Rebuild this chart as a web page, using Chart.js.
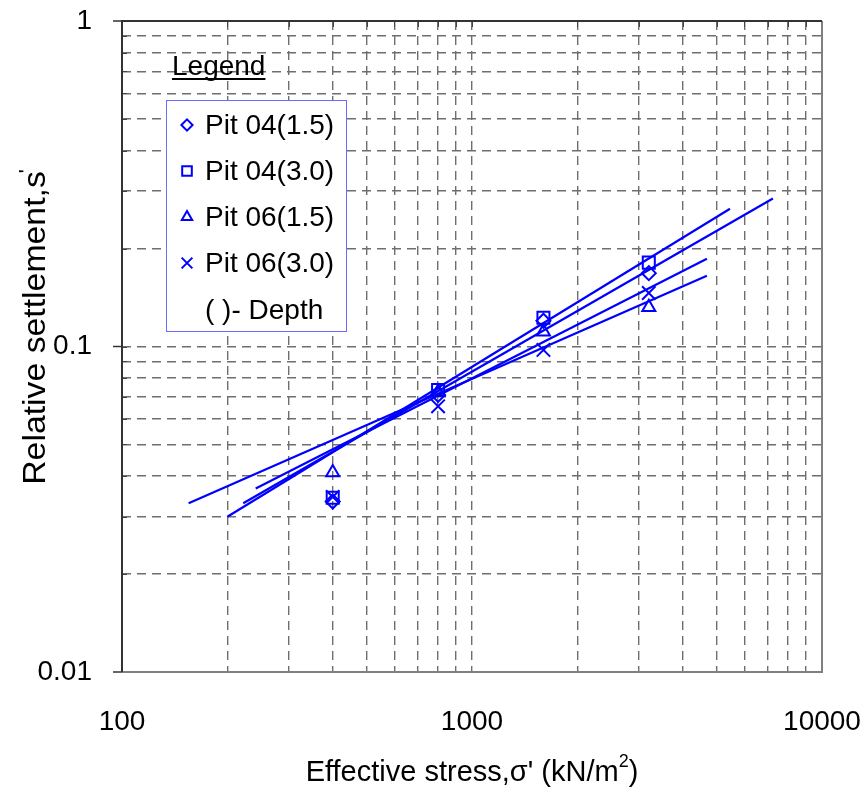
<!DOCTYPE html>
<html>
<head>
<meta charset="utf-8">
<script src="https://cdn.jsdelivr.net/npm/chart.js@4/dist/chart.umd.min.js"></script>
<style>
    body { margin: 0; background: #fff; }
    #wrap { width: 865px; height: 796px; }
</style>
</head>
<body>
<div id="wrap"><canvas id="settlementChart" width="865" height="796"></canvas></div>
<script>
// effective stress (kN/m2) of the loading steps
const stress = [400, 800, 1600, 3200];

// relative settlement
const pit04_15 = [0.0334, 0.071, 0.12, 0.168];
const pit04_30 = [0.0343, 0.0735, 0.1225, 0.181];
const pit06_15 = [0.041, 0.0725, 0.111, 0.132];
const pit06_30 = [0.0345, 0.0655, 0.0976, 0.146];

// trend lines: start and end of each line
const trendX_04_15 = [222, 7240];
const trendY_04_15 = [0.033, 0.285];
const trendX_04_30 = [200, 5460];
const trendY_04_30 = [0.030, 0.265];
const trendX_06_15 = [155, 4690];
const trendY_06_15 = [0.033, 0.165];
const trendX_06_30 = [241, 4690];
const trendY_06_30 = [0.0366, 0.186];

// grid lines and labelled ticks
const xGrid = [100, 200, 300, 400, 500, 600, 700, 800, 900, 1000,
    2000, 3000, 4000, 5000, 6000, 7000, 8000, 9000, 10000];
const yGrid = [0.01, 0.02, 0.03, 0.04, 0.05, 0.06, 0.07, 0.08, 0.09, 0.1,
    0.2, 0.3, 0.4, 0.5, 0.6, 0.7, 0.8, 0.9, 1];
const xLabels = [100, 1000, 10000];
const yLabels = [0.01, 0.1, 1];

const legendNames = ['Pit 04(1.5)', 'Pit 04(3.0)', 'Pit 06(1.5)', 'Pit 06(3.0)'];
const legendStyles = ['rectRot', 'rect', 'triangle', 'crossRot'];

const BLUE = '#0000ff';
const FONT = "'Liberation Sans', Arial, sans-serif";

const pts = (xs, ys) => xs.map((x, i) => ({ x: x, y: ys[i] }));
const isIn = (list, v) => list.some(l => Math.abs(l - v) / l < 1e-6);
const sizeOf = style => ({ rectRot: 7, rect: 8.5, triangle: 7.5, crossRot: 9.5 })[style];

const markerSet = (label, ys, style) => ({
    label: label,
    data: pts(stress, ys),
    showLine: false,
    pointStyle: style,
    pointRadius: sizeOf(style),
    pointBorderWidth: 2,
    pointBorderColor: BLUE,
    pointBackgroundColor: 'rgba(0,0,0,0)'
});

const trendSet = (xs, ys) => ({
    data: pts(xs, ys),
    showLine: true,
    borderColor: BLUE,
    borderWidth: 2.2,
    pointRadius: 0
});

// frame, ticks, titles and legend drawn on top of the chart
const decorations = {
    id: 'decorations',
    afterDraw(chart) {
        const ctx = chart.ctx;
        const a = chart.chartArea;
        const xs = chart.scales.x;
        const ys = chart.scales.y;
        ctx.save();

        // inner minor ticks
        ctx.strokeStyle = '#444';
        ctx.lineWidth = 1;
        yGrid.forEach(v => {
            const y = Math.round(ys.getPixelForValue(v)) + 0.5;
            ctx.beginPath();
            ctx.moveTo(a.left, y);
            ctx.lineTo(a.left + 5, y);
            ctx.stroke();
        });
        xGrid.forEach(v => {
            const x = Math.round(xs.getPixelForValue(v)) + 0.5;
            ctx.beginPath();
            ctx.moveTo(x, a.top);
            ctx.lineTo(x, a.top + 6);
            ctx.stroke();
        });

        // frame
        ctx.lineWidth = 2;
        ctx.strokeStyle = '#808080';
        ctx.beginPath();
        ctx.moveTo(a.left, a.bottom);
        ctx.lineTo(a.right, a.bottom);
        ctx.lineTo(a.right, a.top);
        ctx.stroke();
        ctx.strokeStyle = '#333';
        ctx.beginPath();
        ctx.moveTo(a.right, a.top);
        ctx.lineTo(a.left, a.top);
        ctx.lineTo(a.left, a.bottom);
        ctx.stroke();

        // outer major ticks on the y axis
        ctx.lineWidth = 1.5;
        yLabels.forEach(v => {
            const y = ys.getPixelForValue(v);
            ctx.beginPath();
            ctx.moveTo(a.left - 9, y);
            ctx.lineTo(a.left, y);
            ctx.stroke();
        });

        // axis titles
        ctx.fillStyle = '#000';
        ctx.textBaseline = 'alphabetic';
        ctx.textAlign = 'left';
        ctx.font = '29px ' + FONT;
        const t1 = "Effective stress,\u03c3' (kN/m";
        const w1 = ctx.measureText(t1).width;
        ctx.font = '18px ' + FONT;
        const w2 = ctx.measureText('2').width;
        ctx.font = '29px ' + FONT;
        const w3 = ctx.measureText(')').width;
        const tx = (a.left + a.right) / 2 - (w1 + w2 + w3) / 2;
        const ty = 781;
        ctx.fillText(t1, tx, ty);
        ctx.font = '18px ' + FONT;
        ctx.fillText('2', tx + w1, ty - 14);
        ctx.font = '29px ' + FONT;
        ctx.fillText(')', tx + w1 + w2, ty);

        ctx.save();
        ctx.translate(45, 328);
        ctx.rotate(-Math.PI / 2);
        ctx.scale(1.09, 1);
        ctx.font = '31px ' + FONT;
        const yt = 'Relative settlement,s';
        const yw = ctx.measureText(yt).width;
        ctx.fillText(yt, -yw / 2, 0);
        ctx.font = '20px ' + FONT;
        ctx.fillText("'", yw / 2 - 2, -12);
        ctx.restore();

        // legend heading
        ctx.font = '28px ' + FONT;
        ctx.fillText('Legend', 172, 75);
        const lw = ctx.measureText('Legend').width;
        ctx.fillRect(172, 78, lw, 2);

        // legend box
        ctx.fillStyle = '#fff';
        ctx.fillRect(166, 100, 180, 231);
        ctx.strokeStyle = '#6b6bff';
        ctx.lineWidth = 1;
        ctx.strokeRect(166.5, 100.5, 180, 231);

        ctx.textBaseline = 'middle';
        const rowY = [125, 171, 217, 263, 310];
        legendNames.forEach((name, i) => {
            ctx.strokeStyle = BLUE;
            ctx.fillStyle = 'rgba(0,0,0,0)';
            ctx.lineWidth = 2;
            Chart.helpers.drawPoint(ctx, {
                pointStyle: legendStyles[i],
                radius: sizeOf(legendStyles[i]) * 0.8,
                borderWidth: 2,
                rotation: 0
            }, 187, rowY[i]);
            ctx.fillStyle = '#000';
            ctx.font = '28px ' + FONT;
            ctx.fillText(name, 205, rowY[i] + 1);
        });
        ctx.fillText('( )- Depth', 205, rowY[4] + 1);
        ctx.restore();
    }
};

new Chart(document.getElementById('settlementChart'), {
    type: 'scatter',
    data: {
        datasets: [
            markerSet(legendNames[0], pit04_15, legendStyles[0]),
            markerSet(legendNames[1], pit04_30, legendStyles[1]),
            markerSet(legendNames[2], pit06_15, legendStyles[2]),
            markerSet(legendNames[3], pit06_30, legendStyles[3]),
            trendSet(trendX_04_15, trendY_04_15),
            trendSet(trendX_04_30, trendY_04_30),
            trendSet(trendX_06_15, trendY_06_15),
            trendSet(trendX_06_30, trendY_06_30)
        ]
    },
    options: {
        responsive: false,
        animation: false,
        layout: { padding: { top: 21, right: 43, left: 0, bottom: 0 } },
        plugins: {
            legend: { display: false },
            tooltip: { enabled: false }
        },
        scales: {
            x: {
                type: 'logarithmic',
                min: 100,
                max: 10000,
                afterBuildTicks: s => { s.ticks = xGrid.map(v => ({ value: v })); },
                afterFit: s => {
                    s.height = 796 - 672;
                    s.paddingLeft = 0;
                    s.paddingRight = 0;
                },
                grid: { color: '#6e6e6e', lineWidth: 1.4, drawTicks: false },
                border: { display: false, dash: [9, 6] },
                ticks: {
                    autoSkip: false,
                    maxRotation: 0,
                    padding: 33,
                    color: '#000',
                    font: { family: FONT, size: 28 },
                    callback: v => isIn(xLabels, v) ? String(v) : ''
                }
            },
            y: {
                type: 'logarithmic',
                min: 0.01,
                max: 1,
                afterBuildTicks: s => { s.ticks = yGrid.map(v => ({ value: v })); },
                afterFit: s => {
                    s.width = 122;
                    s.paddingTop = 0;
                    s.paddingBottom = 0;
                },
                grid: { color: '#6e6e6e', lineWidth: 1.4, drawTicks: false },
                border: { display: false, dash: [9, 6] },
                ticks: {
                    autoSkip: false,
                    padding: 30,
                    color: '#000',
                    font: { family: FONT, size: 28 },
                    callback: v => isIn(yLabels, v) ? String(v) : ''
                }
            }
        }
    },
    plugins: [decorations]
});
</script>
</body>
</html>
